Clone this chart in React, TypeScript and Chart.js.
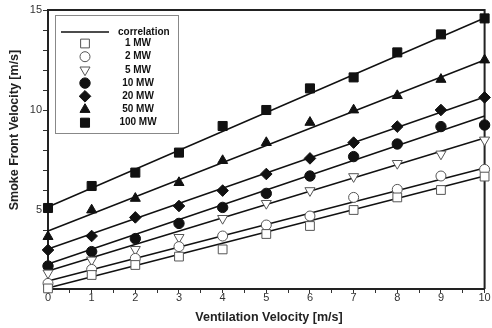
import { useEffect, useRef } from "react";
import { Chart, registerables } from "chart.js";
import { drawPoint } from "chart.js/helpers";

Chart.register(...registerables);

// ---- data ----
const velocities = [0, 1, 2, 3, 4, 5, 6, 7, 8, 9, 10];
const mw1 = [1.08, 1.75, 2.25, 2.67, 3.03, 3.8, 4.2, 5.0, 5.63, 6.0, 6.67];
const mw2 = [1.33, 2.03, 2.58, 3.17, 3.7, 4.25, 4.7, 5.63, 6.03, 6.7, 7.03];
const mw5 = [1.85, 2.5, 3.03, 3.63, 4.58, 5.33, 5.97, 6.67, 7.33, 7.8, 8.5];
const mw10 = [2.2, 2.92, 3.57, 4.33, 5.13, 5.83, 6.7, 7.67, 8.3, 9.17, 9.25];
const mw20 = [3.0, 3.7, 4.63, 5.2, 5.97, 6.8, 7.58, 8.37, 9.17, 10.0, 10.63];
const mw50 = [3.67, 5.0, 5.58, 6.37, 7.47, 8.37, 9.38, 10.0, 10.72, 11.53, 12.5];
const mw100 = [5.1, 6.2, 6.87, 7.87, 9.2, 10.0, 11.08, 11.63, 12.88, 13.78, 14.58];

// correlation lines (value at velocity 0 and at velocity 10)
const corrX = [0, 10];
const corr1 = [1.1, 6.7];
const corr2 = [1.45, 7.1];
const corr5 = [1.95, 8.6];
const corr10 = [2.3, 9.7];
const corr20 = [3.05, 10.65];
const corr50 = [3.95, 12.5];
const corr100 = [5.15, 14.6];

const seriesLabels = ["1 MW", "2 MW", "5 MW", "10 MW", "20 MW", "50 MW", "100 MW"];
const corrLabel = "correlation";
const xTickValues = [0, 0.5, 1, 1.5, 2, 2.5, 3, 3.5, 4, 4.5, 5, 5.5, 6, 6.5, 7, 7.5, 8, 8.5, 9, 9.5, 10];
const yTickValues = [2, 3, 4, 5, 6, 7, 8, 9, 10, 11, 12, 13, 14, 15];
const xTitle = "Ventilation Velocity [m/s]";
const yTitle = "Smoke Front Velocity [m/s]";

const seriesValues = [mw1, mw2, mw5, mw10, mw20, mw50, mw100];
const corrValues = [corr1, corr2, corr5, corr10, corr20, corr50, corr100];

const markerStyles = [
  { pointStyle: "rect", radius: 6.2, rotation: 0, fill: "#ffffff", stroke: "#555555" },
  { pointStyle: "circle", radius: 5, rotation: 0, fill: "#ffffff", stroke: "#555555" },
  { pointStyle: "triangle", radius: 5.8, rotation: 180, fill: "#ffffff", stroke: "#555555" },
  { pointStyle: "circle", radius: 5.2, rotation: 0, fill: "#111111", stroke: "#111111" },
  { pointStyle: "rectRot", radius: 5.8, rotation: 0, fill: "#111111", stroke: "#111111" },
  { pointStyle: "triangle", radius: 5.8, rotation: 0, fill: "#111111", stroke: "#111111" },
  { pointStyle: "rect", radius: 6.4, rotation: 0, fill: "#111111", stroke: "#111111" },
];

const FONT = "'Liberation Sans', Arial, Helvetica, sans-serif";

const decorPlugin = {
  id: "decor",
  beforeDatasetsDraw(chart: any) {
    const { ctx, chartArea } = chart;
    ctx.save();
    ctx.strokeStyle = "#222222";
    ctx.lineWidth = 2;
    ctx.beginPath();
    ctx.moveTo(chartArea.left, chartArea.top);
    ctx.lineTo(chartArea.right, chartArea.top);
    ctx.lineTo(chartArea.right, chartArea.bottom);
    ctx.stroke();
    ctx.restore();
  },
  afterDraw(chart: any) {
    const { ctx } = chart;
    ctx.save();
    // axis titles
    ctx.fillStyle = "#222222";
    ctx.font = `bold 12.5px ${FONT}`;
    ctx.textAlign = "center";
    ctx.textBaseline = "middle";
    ctx.fillText(xTitle, 269, 318);
    ctx.save();
    ctx.translate(15, 130);
    ctx.rotate(-Math.PI / 2);
    ctx.fillText(yTitle, 0, 0);
    ctx.restore();

    // legend box
    ctx.fillStyle = "#ffffff";
    ctx.fillRect(55.5, 15.5, 123, 118);
    ctx.strokeStyle = "#888888";
    ctx.lineWidth = 1;
    ctx.strokeRect(55.5, 15.5, 123, 118);

    ctx.strokeStyle = "#111111";
    ctx.lineWidth = 1.5;
    ctx.beginPath();
    ctx.moveTo(61, 32);
    ctx.lineTo(109, 32);
    ctx.stroke();

    ctx.fillStyle = "#111111";
    ctx.font = `bold 10px ${FONT}`;
    ctx.textAlign = "left";
    ctx.fillText(corrLabel, 118, 32);

    const rowY = [43.5, 56.7, 69.9, 83.1, 96.3, 109.5, 122.7];
    seriesLabels.forEach((label, i) => {
      const m = markerStyles[i];
      ctx.fillStyle = m.fill;
      ctx.strokeStyle = m.stroke;
      ctx.lineWidth = 1;
      drawPoint(ctx, { pointStyle: m.pointStyle, radius: m.radius, rotation: m.rotation, borderWidth: 1 } as any, 85, rowY[i]);
      ctx.fillStyle = "#111111";
      ctx.textAlign = "center";
      ctx.fillText(label, 138, rowY[i]);
    });
    ctx.restore();
  },
};

export default function App() {
  const canvasRef = useRef<HTMLCanvasElement | null>(null);

  useEffect(() => {
    const canvas = canvasRef.current;
    if (!canvas) return;

    const lineSets = corrValues.map((vals, i) => ({
      label: `${seriesLabels[i]} ${corrLabel}`,
      data: corrX.map((x, j) => ({ x, y: vals[j] })),
      showLine: true,
      borderColor: "#111111",
      borderWidth: 1.5,
      pointRadius: 0,
      order: 2,
      clip: false as any,
    }));

    const pointSets = seriesValues.map((vals, i) => {
      const m = markerStyles[i];
      return {
        label: seriesLabels[i],
        data: velocities.map((x, j) => ({ x, y: vals[j] })),
        showLine: false,
        pointStyle: m.pointStyle,
        pointRadius: m.radius,
        pointRotation: m.rotation,
        backgroundColor: m.fill,
        borderColor: m.stroke,
        pointBorderWidth: 1,
        order: 1,
        clip: false as any,
      };
    });

    const chart = new Chart(canvas, {
      type: "scatter",
      data: { datasets: [...pointSets, ...lineSets] as any },
      options: {
        animation: false,
        responsive: false,
        layout: { padding: { top: 10, right: 4, left: 0, bottom: 0 } },
        plugins: { legend: { display: false }, tooltip: { enabled: false } },
        scales: {
          x: {
            type: "linear",
            min: 0,
            max: 10,
            afterBuildTicks: (scale: any) => {
              scale.ticks = xTickValues.map((v) => ({ value: v }));
            },
            afterFit: (scale: any) => {
              scale.height = 39;
              scale.paddingLeft = 0;
              scale.paddingRight = 0;
            },
            border: { display: true, color: "#222222", width: 2 },
            grid: { drawOnChartArea: false, drawTicks: true, tickLength: 4, color: "#333333" },
            ticks: {
              autoSkip: false,
              maxRotation: 0,
              padding: -2,
              color: "#333333",
              font: { family: FONT, size: 11 },
              callback: (v: any) => (Number.isInteger(Number(v)) ? String(v) : ""),
            },
          },
          y: {
            type: "linear",
            min: 1.05,
            max: 15,
            afterBuildTicks: (scale: any) => {
              scale.ticks = yTickValues.map((v) => ({ value: v }));
            },
            afterFit: (scale: any) => {
              scale.width = 48;
              scale.paddingTop = 0;
              scale.paddingBottom = 0;
            },
            border: { display: true, color: "#222222", width: 2 },
            grid: { drawOnChartArea: false, drawTicks: true, tickLength: 5, color: "#333333" },
            ticks: {
              autoSkip: false,
              padding: 1,
              color: "#333333",
              font: { family: FONT, size: 11 },
              callback: (v: any) => (Number(v) % 5 === 0 ? String(v) : ""),
            },
          },
        },
      },
      plugins: [decorPlugin],
    });

    return () => chart.destroy();
  }, []);

  return (
    <div style={{ position: "fixed", left: 0, top: 0, width: 492, height: 328, background: "#ffffff" }}>
      <canvas ref={canvasRef} width={492} height={328} style={{ display: "block" }} />
    </div>
  );
}
